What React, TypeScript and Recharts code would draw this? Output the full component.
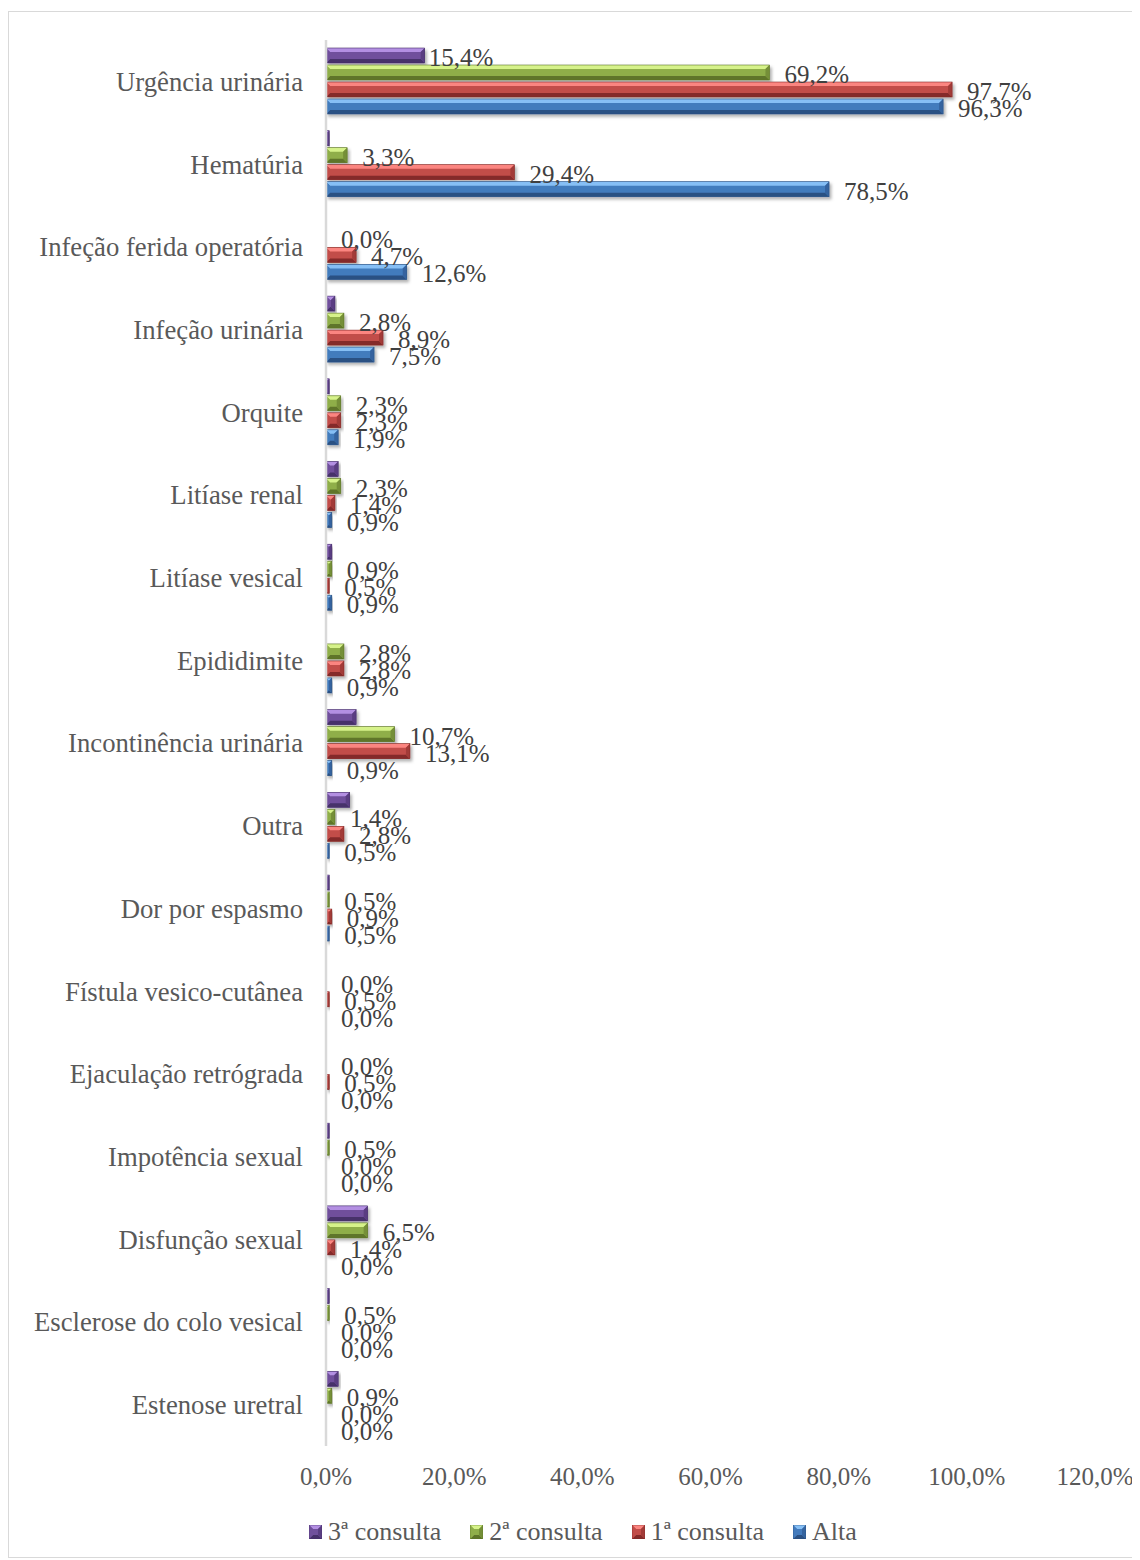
import { BarChart, Bar, XAxis, YAxis, Legend, LabelList } from "recharts";

const categories = [
  "Urgência urinária", "Hematúria", "Infeção ferida operatória", "Infeção urinária", "Orquite",
  "Litíase renal", "Litíase vesical", "Epididimite", "Incontinência urinária", "Outra",
  "Dor por espasmo", "Fístula vesico-cutânea", "Ejaculação retrógrada", "Impotência sexual",
  "Disfunção sexual", "Esclerose do colo vesical", "Estenose uretral",
];
const consulta3 = [15.4, 0.5, 0, 1.4, 0.5, 1.9, 0.9, 0, 4.7, 3.7, 0.5, 0, 0, 0.5, 6.5, 0.5, 1.9];
const consulta2 = [69.2, 3.3, 0, 2.8, 2.3, 2.3, 0.9, 2.8, 10.7, 1.4, 0.5, 0, 0, 0.5, 6.5, 0.5, 0.9];
const consulta1 = [97.7, 29.4, 4.7, 8.9, 2.3, 1.4, 0.5, 2.8, 13.1, 2.8, 0.9, 0.5, 0.5, 0, 1.4, 0, 0];
const alta = [96.3, 78.5, 12.6, 7.5, 1.9, 0.9, 0.9, 0.9, 0.9, 0.5, 0.5, 0, 0, 0, 0, 0, 0];
const xTicks = [0, 20, 40, 60, 80, 100, 120];
// the 3rd-visit series only carries a label on this category
const labelled3 = ["Urgência urinária"];

const seriesNames = ["3ª consulta", "2ª consulta", "1ª consulta", "Alta"];
const seriesKeys = ["c3", "c2", "c1", "alta"];

const PAL = [
  { light: "#b38fe2", main: "#70509c", dark: "#46306b", side: "#5a3e82" },
  { light: "#d6f28a", main: "#8fae4a", dark: "#5e7529", side: "#748f37" },
  { light: "#fb8580", main: "#c24d49", dark: "#842b29", side: "#a23b38" },
  { light: "#86bff5", main: "#437bbd", dark: "#2b5183", side: "#35649f" },
];

const data = categories.map((name, i) => ({
  name,
  c3: consulta3[i],
  c2: consulta2[i],
  c1: consulta1[i],
  alta: alta[i],
}));

const FONT = "'Liberation Serif', 'Times New Roman', serif";
const fmt = (v: number) => v.toFixed(1).replace(".", ",") + "%";

function BevelBar(props: any) {
  const { x, y, width, height, pal, shadow = true } = props;
  if (!width || width <= 0.3 || !height) return null;
  const w = width, h = height;
  const b = Math.min(4, w / 2, h / 2);
  return (
    <g filter={shadow ? "url(#barShadow)" : undefined}>
      <rect x={x} y={y} width={w} height={h} fill={pal.main} />
      <polygon points={`${x},${y} ${x + w},${y} ${x + w - b},${y + b} ${x + b},${y + b}`} fill={pal.light} />
      <polygon points={`${x},${y + h} ${x + w},${y + h} ${x + w - b},${y + h - b} ${x + b},${y + h - b}`} fill={pal.dark} />
      <polygon points={`${x + w},${y} ${x + w},${y + h} ${x + w - b},${y + h - b} ${x + w - b},${y + b}`} fill={pal.side} />
      <polygon points={`${x},${y} ${x},${y + h} ${x + b},${y + h - b} ${x + b},${y + b}`} fill={pal.main} />
      <rect x={x} y={y} width={w} height={h} fill="none" stroke={pal.dark} strokeWidth={0.6} />
    </g>
  );
}

function ValueLabel(props: any) {
  const { x, y, width, height, value, gap } = props;
  return (
    <text
      x={Number(x) + Number(width) + gap}
      y={Number(y) + Number(height) / 2 + 2}
      dominantBaseline="central"
      fontFamily={FONT}
      fontSize={25}
      fill="#404040"
    >
      {fmt(Number(value))}
    </text>
  );
}

function LegendContent() {
  return (
    <div style={{ height: 30, display: "flex", alignItems: "center", paddingLeft: 300, fontFamily: FONT, fontSize: 26, color: "#595959" }}>
      {seriesNames.map((n, i) => (
        <div key={n} style={{ display: "flex", alignItems: "center", marginRight: 29 }}>
          <svg width={13} height={14} viewBox="0 0 13 14" style={{ marginRight: 6, flexShrink: 0, display: "block", width: 13, height: 14 }}>
            <BevelBar x={0} y={0} width={13} height={14} pal={PAL[i]} shadow={false} />
          </svg>
          <span>{n}</span>
        </div>
      ))}
    </div>
  );
}

export default function App() {
  return (
    <div style={{ paddingTop: 3 }}>
      <div style={{ width: 1130, height: 1545, border: "1px solid #d9d9d9", background: "#fff" }}>
        <BarChart
          width={1130}
          height={1545}
          data={data}
          layout="vertical"
          margin={{ top: 28, right: 44, bottom: 10, left: 0 }}
          barCategoryGap={8}
          barGap={2}
        >
          <defs>
            <filter id="barShadow" x="-10%" y="-30%" width="130%" height="190%">
              <feDropShadow dx={2} dy={2.5} stdDeviation={1.5} floodColor="#000" floodOpacity={0.3} />
            </filter>
          </defs>
          <XAxis
            type="number"
            domain={[0, 120]}
            ticks={xTicks}
            tickFormatter={fmt}
            axisLine={false}
            tickLine={false}
            tickSize={0}
            tickMargin={21}
            height={71}
            tick={{ fill: "#595959", fontSize: 25, fontFamily: FONT }}
            interval={0}
          />
          <YAxis
            type="category"
            dataKey="name"
            width={317}
            axisLine={{ stroke: "#d9d9d9", strokeWidth: 2.5 }}
            tickLine={false}
            tickSize={0}
            tickMargin={23}
            interval={0}
            tick={{ fill: "#595959", fontSize: 26.7, fontFamily: FONT }}
          />
          <Legend verticalAlign="bottom" content={() => <LegendContent />} />
          {seriesKeys.map((k, i) => (
            <Bar
              key={k}
              dataKey={k}
              name={seriesNames[i]}
              fill={PAL[i].main}
              isAnimationActive={false}
              shape={(p: any) => <BevelBar {...p} pal={PAL[i]} />}
            >
              <LabelList
                dataKey={k}
                content={(p: any) =>
                  i === 0 && !labelled3.includes(categories[p.index]) ? null : (
                    <ValueLabel {...p} gap={i === 0 ? 4 : 15} />
                  )
                }
              />
            </Bar>
          ))}
        </BarChart>
      </div>
    </div>
  );
}
